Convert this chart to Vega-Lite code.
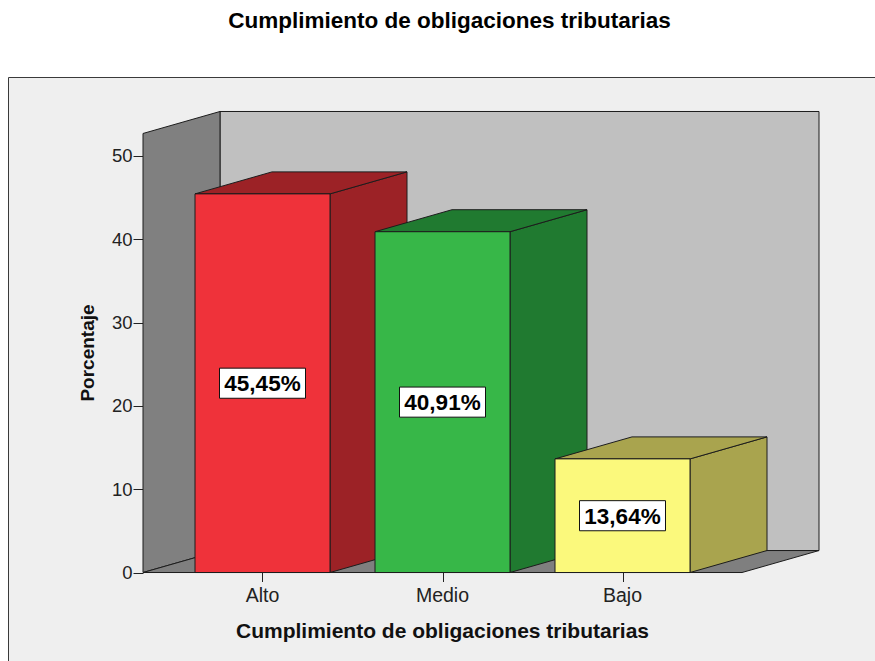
{
  "$schema": "https://vega.github.io/schema/vega-lite/v6.json",
  "width": 867,
  "height": 584,
  "autosize": {"type": "none"},
  "padding": {"left": 8, "top": 77, "right": 0, "bottom": 0},
  "background": "#ffffff",
  "title": {
    "text": "Cumplimiento de obligaciones tributarias",
    "font": "Liberation Sans",
    "fontSize": 22.5,
    "fontWeight": "bold",
    "color": "#000000",
    "anchor": "middle",
    "dx": 8,
    "offset": 27,
    "baseline": "alphabetic"
  },
  "config": {
    "view": {"fill": "#efefef", "stroke": "#3a3a3a", "strokeWidth": 1},
    "font": "Liberation Sans"
  },
  "datasets": {
    "datos": [
      {"categoria": "Alto", "porcentaje": 45.45},
      {"categoria": "Medio", "porcentaje": 40.91},
      {"categoria": "Bajo", "porcentaje": 13.64}
    ]
  },
  "data": {"name": "datos"},
  "encoding": {
    "x": {"field": "xa", "type": "quantitative", "stack": null, "scale": {"domain": [-135, 732], "nice": false, "zero": false}},
    "y": {"field": "ya", "type": "quantitative", "stack": null, "scale": {"domain": [-10.62, 59.48], "nice": false, "zero": false}}
  },
  "layer": [
    {
      "transform": [
        {"aggregate": [{"op": "count", "as": "k"}]},
        {"calculate": "77", "as": "xa"},
        {"calculate": "676", "as": "xb"},
        {"calculate": "55.34", "as": "ya"},
        {"calculate": "2.64", "as": "yb"}
      ],
      "mark": {"type": "rect", "fill": "#c0c0c0", "stroke": "#1c1c1c", "strokeWidth": 1},
      "encoding": {"x2": {"field": "xb"}, "y2": {"field": "yb"}}
    },
    {
      "transform": [
        {"aggregate": [{"op": "count", "as": "k"}]},
        {"calculate": "0", "as": "frente"},
        {"calculate": "1", "as": "fondo"},
        {"fold": ["frente", "fondo"], "as": ["cara", "p"]},
        {"calculate": "77 * datum.p", "as": "xa"},
        {"calculate": "52.7 + 2.64 * datum.p", "as": "ya"},
        {"calculate": "2.64 * datum.p", "as": "yb"}
      ],
      "mark": {"type": "area", "orient": "vertical", "fill": "#808080", "stroke": "#1c1c1c", "strokeWidth": 1, "opacity": 1},
      "encoding": {"y2": {"field": "yb"}}
    },
    {
      "transform": [
        {"aggregate": [{"op": "count", "as": "k"}]},
        {"calculate": "0", "as": "frente"},
        {"calculate": "1", "as": "fondo"},
        {"fold": ["frente", "fondo"], "as": ["cara", "p"]},
        {"calculate": "77 * datum.p", "as": "xa"},
        {"calculate": "599 + 77 * datum.p", "as": "xb"},
        {"calculate": "2.64 * datum.p", "as": "ya"}
      ],
      "mark": {"type": "area", "orient": "horizontal", "fill": "#7f7f7f", "stroke": "#1c1c1c", "strokeWidth": 1, "opacity": 1},
      "encoding": {"x2": {"field": "xb"}}
    },
    {
      "transform": [
        {"window": [{"op": "row_number", "as": "n"}]},
        {"calculate": "0", "as": "frente"},
        {"calculate": "1", "as": "fondo"},
        {"fold": ["frente", "fondo"], "as": ["cara", "p"]},
        {"calculate": "52 + 180 * (datum.n - 1) + 135 + 77 * datum.p", "as": "xa"},
        {"calculate": "datum.porcentaje + 2.64 * datum.p", "as": "ya"},
        {"calculate": "2.64 * datum.p", "as": "yb"}
      ],
      "mark": {"type": "area", "orient": "vertical", "stroke": "#1c1c1c", "strokeWidth": 1, "opacity": 1},
      "encoding": {
        "y2": {"field": "yb"},
        "color": {"field": "categoria", "type": "nominal", "scale": {"domain": ["Alto", "Medio", "Bajo"], "range": ["#9c2226", "#207a30", "#a9a44e"]}, "legend": null},
        "detail": {"field": "categoria"}
      }
    },
    {
      "transform": [
        {"window": [{"op": "row_number", "as": "n"}]},
        {"calculate": "0", "as": "frente"},
        {"calculate": "1", "as": "fondo"},
        {"fold": ["frente", "fondo"], "as": ["cara", "p"]},
        {"calculate": "52 + 180 * (datum.n - 1) + 77 * datum.p", "as": "xa"},
        {"calculate": "datum.xa + 135", "as": "xb"},
        {"calculate": "datum.porcentaje + 2.64 * datum.p", "as": "ya"}
      ],
      "mark": {"type": "area", "orient": "horizontal", "stroke": "#1c1c1c", "strokeWidth": 1, "opacity": 1},
      "encoding": {
        "x2": {"field": "xb"},
        "color": {"field": "categoria", "type": "nominal", "scale": {"domain": ["Alto", "Medio", "Bajo"], "range": ["#9c2226", "#207a30", "#a9a44e"]}, "legend": null},
        "detail": {"field": "categoria"}
      }
    },
    {
      "transform": [
        {"window": [{"op": "row_number", "as": "n"}]},
        {"calculate": "52 + 180 * (datum.n - 1)", "as": "x0"},
        {"calculate": "datum.x0 + 135", "as": "x1"}
      ],
      "mark": {"type": "rect", "stroke": "#1c1c1c", "strokeWidth": 1},
      "encoding": {
        "x": {
          "field": "x0", "type": "quantitative",
          "scale": {"domain": [-135, 732], "nice": false, "zero": false},
          "axis": {
            "values": [119.5, 299.5, 479.5],
            "labels": false,
            "domain": false,
            "grid": false,
            "ticks": true,
            "tickSize": 9,
            "tickColor": "#222222",
            "offset": -88.5,
            "title": "Cumplimiento de obligaciones tributarias",
            "titleFont": "Liberation Sans",
            "titleFontSize": 21,
            "titleFontWeight": "bold",
            "titleColor": "#111111",
            "titleX": 434,
            "titleY": 65,
            "titleBaseline": "alphabetic",
            "titleAlign": "center"
          }
        },
        "x2": {"field": "x1"},
        "y": {
          "field": "porcentaje", "type": "quantitative", "stack": null,
          "scale": {"domain": [-10.62, 59.48], "nice": false, "zero": false},
          "axis": {
            "values": [0, 10, 20, 30, 40, 50],
            "offset": -135,
            "domain": false,
            "grid": false,
            "tickSize": 10,
            "tickColor": "#222222",
            "labelPadding": 1,
            "labelFont": "Liberation Sans",
            "labelFontSize": 18.5,
            "labelColor": "#222222",
            "title": "Porcentaje",
            "titleFont": "Liberation Sans",
            "titleFontSize": 19,
            "titleFontWeight": "bold",
            "titleColor": "#111111",
            "titleX": -50,
            "titleY": 275.5,
            "titleBaseline": "alphabetic",
            "titleAlign": "center"
          }
        },
        "y2": {"datum": 0},
        "fill": {"field": "categoria", "type": "nominal", "scale": {"domain": ["Alto", "Medio", "Bajo"], "range": ["#ef323a", "#37b748", "#fbf97c"]}, "legend": null}
      }
    },
    {
      "transform": [
        {"window": [{"op": "row_number", "as": "n"}]},
        {"calculate": "52 + 180 * (datum.n - 1) + 67.5", "as": "xa"},
        {"calculate": "datum.porcentaje / 2", "as": "ya"}
      ],
      "mark": {"type": "point", "shape": "M-1,-0.35H1V0.35H-1Z", "size": 7396, "filled": true, "fill": "#ffffff", "stroke": "#111111", "strokeWidth": 1, "opacity": 1}
    },
    {
      "transform": [
        {"window": [{"op": "row_number", "as": "n"}]},
        {"calculate": "52 + 180 * (datum.n - 1) + 67.5", "as": "xa"},
        {"calculate": "datum.porcentaje / 2", "as": "ya"},
        {"calculate": "replace(format(datum.porcentaje, '.2f'), '.', ',') + '%'", "as": "etiqueta"}
      ],
      "mark": {"type": "text", "font": "Liberation Sans", "fontSize": 22.5, "fontWeight": "bold", "color": "#000000", "align": "center", "baseline": "middle", "dy": 1},
      "encoding": {"text": {"field": "etiqueta"}}
    },
    {
      "transform": [
        {"window": [{"op": "row_number", "as": "n"}]},
        {"calculate": "52 + 180 * (datum.n - 1) + 67.5", "as": "xa"},
        {"calculate": "0", "as": "ya"}
      ],
      "mark": {"type": "text", "font": "Liberation Sans", "fontSize": 19.5, "color": "#222222", "align": "center", "baseline": "alphabetic", "dy": 29.5},
      "encoding": {"text": {"field": "categoria"}}
    }
  ]
}
